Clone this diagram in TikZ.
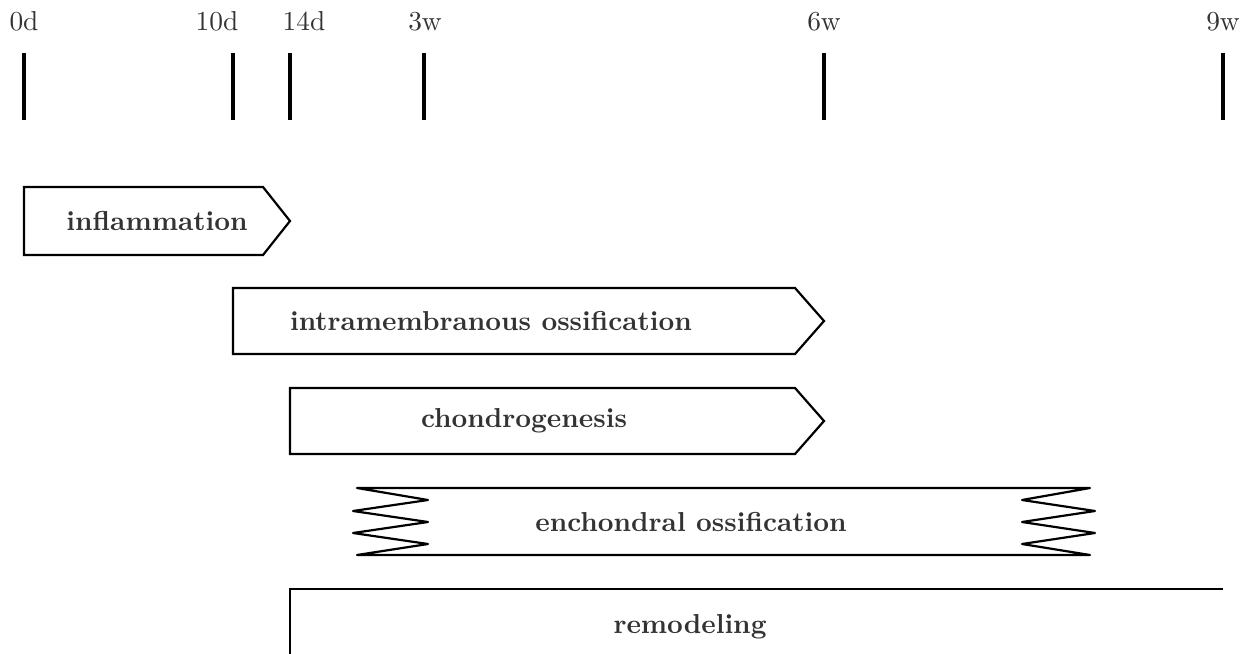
\documentclass[tikz,border=0pt]{standalone}
\usepackage{tikz}
\begin{document}
\begin{tikzpicture}[x=0.365pt,y=-0.365pt,
  tick/.style={line width=1.6pt},
  ticklabel/.style={text=black!80, inner sep=0pt, anchor=base},
  phase/.style={line width=0.8pt, line join=miter},
  phaselabel/.style={text=black!80, font=\bfseries, inner sep=0pt}]
\useasboundingbox (0,0) rectangle (1242,654);
% ticks
\foreach \x/\lx/\l/\n in {24/24/0d/a,233/217/10d/b,290/304/14d/c,424/425/3w/d,824/824/6w/e,1223/1223/9w/f}{
  \node[ticklabel] (lab\n) at (\lx,31) {\l};
  \coordinate (t\n top) at (\x,53);
  \coordinate (t\n bot) at (\x,120);
  \draw[tick] (t\n top) -- (t\n bot);
}
% inflammation
\draw[phase] (24,187) -- (263,187) -- (290,221) -- (263,255) -- (24,255) -- cycle;
\node[phaselabel] (infl) at (157,221) {inflammation};
% intramembranous
\draw[phase] (233,288) -- (795,288) -- (824,321) -- (795,354) -- (233,354) -- cycle;
\node[phaselabel] (intra) at (491,321) {intramembranous ossification};
% chondrogenesis
\draw[phase] (290,388) -- (795,388) -- (824,421) -- (795,454) -- (290,454) -- cycle;
\node[phaselabel] (chond) at (524,421) {chondrogenesis};
% enchondral
\draw[phase, line join=round] (357,488) -- (1090,488) -- (1022,500) -- (1095,511) -- (1022,522) -- (1095,533) -- (1022,544) -- (1090,555)
  -- (357,555) -- (428,544) -- (353,533) -- (428,522) -- (353,511) -- (428,500) -- cycle;
\node[phaselabel] (ench) at (691,522) {enchondral ossification};
% remodeling
\draw[phase] (290,660) -- (290,589) -- (1223,589);
\node[phaselabel] (remod) at (690,627) {remodeling};
\end{tikzpicture}
\end{document}
